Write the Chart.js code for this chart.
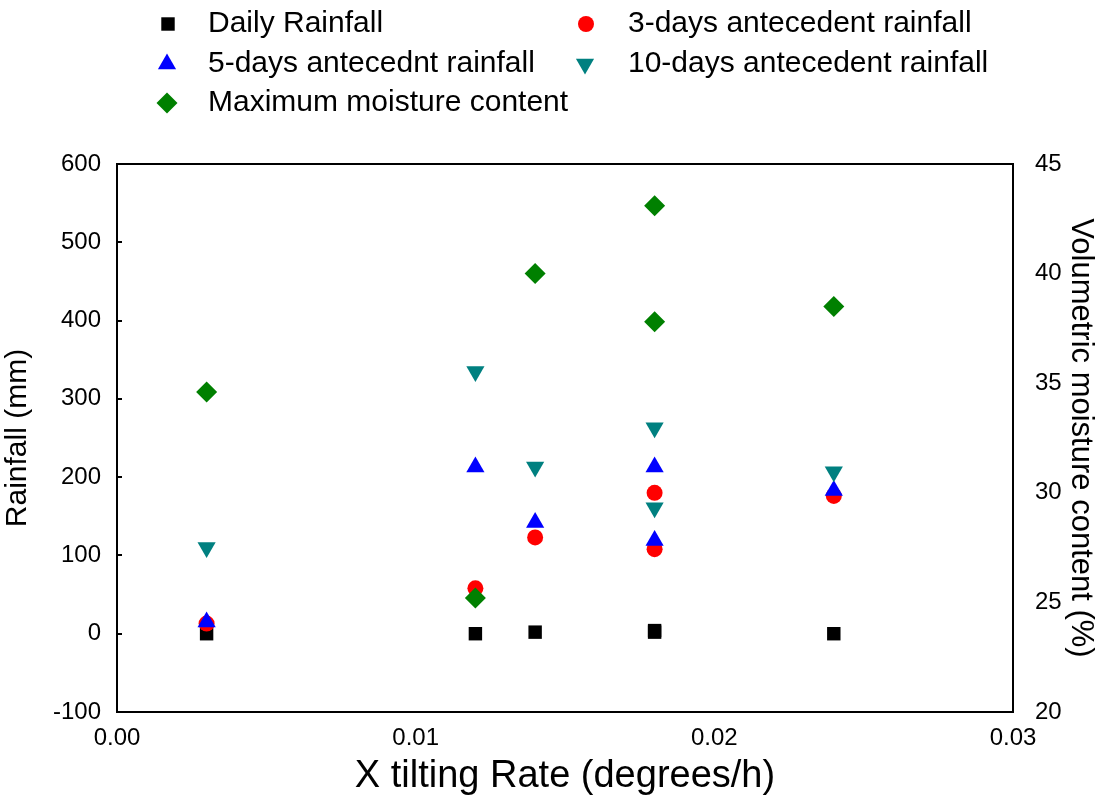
<!DOCTYPE html>
<html>
<head>
<meta charset="utf-8">
<script src="https://cdn.jsdelivr.net/npm/chart.js@4.4.0/dist/chart.umd.min.js"></script>
<style>
  html, body { margin: 0; padding: 0; background: #ffffff; }
  #wrap { width: 1099px; height: 799px; position: relative; }
</style>
</head>
<body>
<div id="wrap"><canvas id="c"></canvas></div>
<script>
// Tilting rate of each monitored event (degrees/h)
const tiltRate = [0.003, 0.012, 0.014, 0.018, 0.018, 0.024];
// Rainfall amounts (mm)
const dailyRainfall = [0, 0, 2, 4, 2, 0];
const rain3Days = [13, 58, 123, 180, 108, 176];
const rain5Days = [15, 213, 142, 213, 119, 183];
const rain10Days = [110, 335, 213, 263, 161, 207];
// Maximum volumetric moisture content (%)
const maxMoisture = [34.6, 25.2, 40.0, 43.1, 37.8, 38.5];

const xTicks = [0, 0.01, 0.02, 0.03];
const rainTicks = [-100, 0, 100, 200, 300, 400, 500, 600];
const moistureTicks = [20, 25, 30, 35, 40, 45];

const FONT = "'Liberation Sans', Arial, sans-serif";

function pts(ys) {
  return tiltRate.map((x, i) => ({ x: x, y: ys[i] }));
}

const seriesDefs = [
  { label: 'Daily Rainfall', data: dailyRainfall, color: '#000000', style: 'rect', radius: 9.5, rotation: 0, axis: 'y', order: 5 },
  { label: '3-days antecedent rainfall', data: rain3Days, color: '#ff0000', style: 'circle', radius: 8, rotation: 0, axis: 'y', order: 4 },
  { label: '5-days antecednt rainfall', data: rain5Days, color: '#0000ff', style: 'triangle', radius: 10.5, rotation: 0, axis: 'y', order: 3 },
  { label: '10-days antecedent rainfall', data: rain10Days, color: '#008080', style: 'triangle', radius: 10.5, rotation: 180, axis: 'y', order: 2 },
  { label: 'Maximum moisture content', data: maxMoisture, color: '#008000', style: 'rectRot', radius: 10.5, rotation: 0, axis: 'y1', order: 1 }
];

const datasets = seriesDefs.map(s => ({
  label: s.label,
  data: pts(s.data),
  yAxisID: s.axis,
  order: s.order,
  showLine: false,
  pointStyle: s.style,
  pointRotation: s.rotation,
  pointRadius: s.radius,
  pointHoverRadius: s.radius,
  pointBackgroundColor: s.color,
  pointBorderColor: s.color,
  pointBorderWidth: 0,
  backgroundColor: s.color,
  borderColor: s.color
}));

// Legend laid out in two columns above the plot
const legendSlots = [
  { mx: 168, tx: 208, y: 24 },
  { mx: 586, tx: 628, y: 24 },
  { mx: 167, tx: 208, y: 64 },
  { mx: 585, tx: 628, y: 64 },
  { mx: 167, tx: 208, y: 103 }
];

const framePlugin = {
  id: 'frameAndLegend',
  afterDraw(chart) {
    const ctx = chart.ctx;
    const a = chart.chartArea;
    ctx.save();
    // plot frame
    ctx.strokeStyle = '#000';
    ctx.lineWidth = 2;
    ctx.strokeRect(a.left, a.top, a.right - a.left, a.bottom - a.top);
    // inward ticks on the rainfall axis
    const ys = chart.scales.y;
    ctx.beginPath();
    rainTicks.forEach(v => {
      const py = Math.round(ys.getPixelForValue(v));
      ctx.moveTo(a.left, py);
      ctx.lineTo(a.left + 5, py);
    });
    ctx.stroke();
    // legend
    ctx.font = '30px ' + FONT;
    ctx.textBaseline = 'middle';
    ctx.textAlign = 'left';
    seriesDefs.forEach((s, i) => {
      const slot = legendSlots[i];
      ctx.fillStyle = s.color;
      Chart.helpers.drawPoint(ctx, { pointStyle: s.style, radius: s.radius, rotation: s.rotation, borderWidth: 0 }, slot.mx, slot.y);
      ctx.fillStyle = '#000';
      ctx.fillText(s.label, slot.tx, slot.y);
    });
    ctx.restore();
  }
};

new Chart(document.getElementById('c'), {
  type: 'scatter',
  data: { datasets: datasets },
  options: {
    responsive: true,
    maintainAspectRatio: false,
    animation: false,
    events: [],
    layout: { padding: { top: 164, left: 0, right: 0, bottom: 0 } },
    plugins: { legend: { display: false }, tooltip: { enabled: false } },
    scales: {
      x: {
        type: 'linear',
        min: 0, max: 0.03,
        afterBuildTicks: s => { s.ticks = xTicks.map(v => ({ value: v })); },
        ticks: { color: '#000', font: { family: FONT, size: 24 }, padding: 12, callback: v => v.toFixed(2), maxRotation: 0 },
        grid: { display: false, drawTicks: false },
        border: { display: false },
        title: { display: true, text: 'X tilting Rate (degrees/h)', color: '#000', font: { family: FONT, size: 38 }, padding: { top: 0, bottom: 0 } },
        afterFit: s => { s.height = 87; }
      },
      y: {
        type: 'linear', position: 'left',
        min: -100, max: 600,
        afterBuildTicks: s => { s.ticks = rainTicks.map(v => ({ value: v })); },
        ticks: { color: '#000', font: { family: FONT, size: 24 }, padding: 16 },
        grid: { display: false, drawTicks: false },
        border: { display: false },
        title: { display: true, text: 'Rainfall (mm)', color: '#000', font: { family: FONT, size: 30 }, padding: { top: 0, bottom: 12 } },
        afterFit: s => { s.width = 117; }
      },
      y1: {
        type: 'linear', position: 'right',
        min: 20, max: 45,
        afterBuildTicks: s => { s.ticks = moistureTicks.map(v => ({ value: v })); },
        ticks: { color: '#000', font: { family: FONT, size: 24 }, padding: 22 },
        grid: { display: false, drawTicks: false },
        border: { display: false },
        title: { display: true, text: 'Volumetric moisture content (%)', color: '#000', font: { family: FONT, size: 31 }, padding: { top: 0, bottom: 0 } },
        afterFit: s => { s.width = 86; }
      }
    }
  },
  plugins: [framePlugin]
});
</script>
</body>
</html>
